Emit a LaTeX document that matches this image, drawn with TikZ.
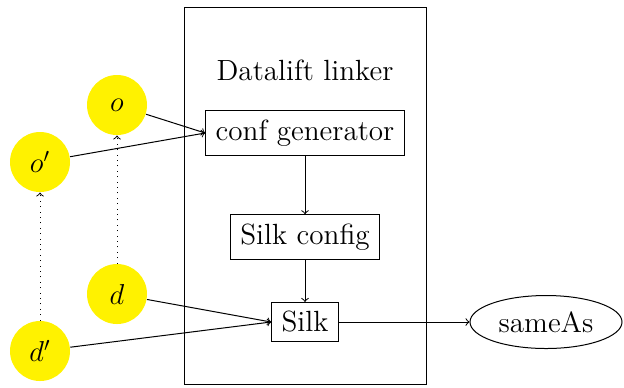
\documentclass[tikz,border=0pt]{standalone}
\usetikzlibrary{shapes.geometric}
\begin{document}
\begin{tikzpicture}[x=0.5pt,y=-0.5pt,
  every node/.style={font=\fontsize{14.6}{17}\selectfont},
  line width=0.5pt,
  boxnode/.style={draw,inner xsep=5pt,inner ysep=4.5pt},
  ent/.style={circle,fill=yellow,minimum size=30pt,inner sep=0pt},
  arr/.style={->},
  dotarr/.style={->,dash pattern=on 0.5pt off 2.2pt}]
\useasboundingbox (0,0) rectangle (624,387);
\node[draw,minimum width=121pt,minimum height=188.5pt,inner sep=0pt] (frame) at (305,195.5) {};
\node (title) at (305,70) {Datalift linker};
\node[boxnode] (conf) at (305,133) {conf generator};
\node[boxnode] (silkc) at (305,237) {Silk config};
\node[boxnode] (silk) at (305,322) {Silk};
\node[draw,ellipse,minimum width=76pt,minimum height=26.5pt,inner sep=0pt] (same) at (546,322) {sameAs};
\node[ent] (o) at (117,105) {$o$};
\node[ent] (op) at (40,162) {$o'$};
\node[ent] (d) at (117,294) {$d$};
\node[ent] (dp) at (40,351) {$d'$};
\draw[arr] (o) -- (conf.west);
\draw[arr] (op) -- (conf.west);
\draw[arr] (d) -- (silk.west);
\draw[arr] (dp) -- (silk.west);
\draw[arr] (conf) -- (silkc);
\draw[arr] (silkc) -- (silk);
\draw[arr] (silk) -- (same);
\draw[dotarr] (d) -- (o);
\draw[dotarr] (dp) -- (op);
\end{tikzpicture}
\end{document}
